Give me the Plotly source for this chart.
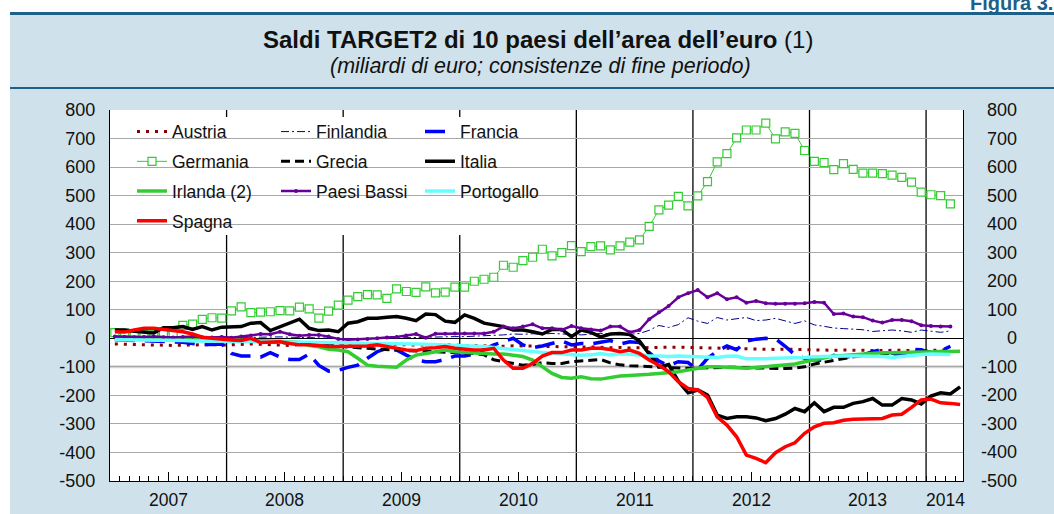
import plotly.graph_objects as go

# ---------------- data (monthly, Jan 2007 - Apr 2014) ----------------
years = ["2007", "2008", "2009", "2010", "2011", "2012", "2013", "2014"]
year_label_pos = [5.5, 17.5, 29.5, 41.5, 53.5, 65.5, 77.5, 85.5]
year_breaks = [11.5, 23.5, 35.5, 47.5, 59.5, 71.5, 83.5]
mid_year_ticks = [5.5, 17.5, 29.5, 41.5, 53.5, 65.5, 77.5]
month_labels = [f"{y}-{m:02d}" for y in range(2007, 2015) for m in range(1, 13)][:88]
x_idx = list(range(88))

y_ticks = [800, 700, 600, 500, 400, 300, 200, 100, 0, -100, -200, -300, -400, -500]
y_ticktext = ["800", "700", "600", "500", "400", "300", "200", "100", "0",
              "-100", "-200", "-300", "-400", "-500"]

austria = [-20, -21, -22, -23, -24, -26, -25, -24, -23, -22, -22, -24,
           -22, -22, -20, -21, -22, -24, -25, -22, -20, -22, -24, -26,
           -25, -24, -22, -20, -20, -22, -24, -24, -23, -22, -22, -24,
           -25, -24, -25, -27, -28, -26, -27, -28, -29, -28, -29, -30,
           -31, -30, -32, -33, -32, -34, -33, -32, -31, -32, -31, -32,
           -33, -34, -35, -36, -37, -38, -37, -38, -39, -38, -39, -40,
           -40, -41, -42, -41, -42, -43, -42, -43, -42, -43, -42, -43,
           -42, -41, -40, None]

finlandia = [2, 2, 3, 3, 2, 3, 4, 4, 3, 4, 5, 4,
             4, 3, 3, 4, 5, 5, 4, 3, 3, 2, 0, -2,
             -3, -2, -1, 0, 1, 2, 2, 3, 4, 5, 5, 6,
             6, 7, 8, 10, 12, 15, 14, 16, 15, 17, 15, 13,
             12, 14, 17, 16, 12, 14, 17, 28, 45, 38, 48, 72,
             60, 52, 73, 64, 68, 73, 62, 64, 70, 60, 52, 61,
             47, 42, 36, 34, 32, 30, 24, 26, 29, 26, 21, 29,
             25, 21, 26, None]

francia = [-5, -6, -6, -8, -8, -10, -12, -14, -18, -22, -22, -20,
           -53, -62, -62, -66, -50, -66, -74, -74, -55, -95, -115, -112,
           -102, -94, -70, -47, -35, -41, -59, -76, -82, -82, -74, -62,
           -62, -55, -39, -23, -12, 0, -23, -33, -27, -18, -9, -23,
           -18, -20, -15, -8, -20, -12, -15, -50, -80, -95, -82, -85,
           -110, -70, -45, -27, -40, -10, -3, 0, -2, -28, -58, -70,
           -75, -78, -60, -67, -62, -58, -47, -38, -52, -62, -38, -40,
           -52, -45, -28, None]

germania = [20, 18, 16, 15, 14, 17, 20, 45, 50, 66, 72, 71,
            96, 110, 90, 92, 93, 97, 96, 109, 103, 71, 95, 116,
            134, 146, 153, 152, 140, 173, 164, 161, 180, 159, 162, 179,
            179, 200, 207, 214, 256, 249, 272, 284, 312, 289, 300, 325,
            304, 321, 324, 310, 324, 337, 345, 392, 450, 467, 497, 464,
            499, 549, 618, 647, 702, 730, 730, 754, 699, 723, 718, 658,
            620, 616, 591, 612, 592, 579, 579, 577, 572, 564, 547, 512,
            503, 500, 471, None]

grecia = [-2, -3, -3, -4, -4, -5, -5, -6, -6, -7, -7, -8,
          -8, -10, -10, -12, -14, -15, -18, -20, -22, -23, -25, -27,
          -30, -33, -35, -38, -40, -42, -44, -45, -46, -47, -48, -50,
          -52, -53, -58, -75, -82, -88, -94, -92, -85, -88, -88, -82,
          -80, -78, -74, -86, -93, -96, -98, -100, -102, -104, -104, -105,
          -104, -103, -101, -100, -101, -103, -104, -105, -105, -106, -104, -100,
          -90, -84, -76, -70, -65, -62, -58, -55, -52, -50, -49, -48,
          -47, -46, -45, None]

italia = [29, 29, 25, 21, 19, 37, 37, 41, 31, 41, 29, 39,
          41, 41, 53, 55, 27, 41, 53, 67, 35, 27, 29, 23,
          53, 58, 70, 70, 74, 76, 70, 62, 85, 83, 60, 56,
          82, 70, 53, 47, 41, 29, 29, 23, 15, 31, 31, 6,
          29, 21, 5, 15, 17, 13, -10, -55, -100, -92, -150, -191,
          -181, -199, -269, -281, -275, -275, -279, -289, -281, -266, -246, -257,
          -226, -257, -242, -242, -228, -222, -211, -234, -234, -211, -216, -230,
          -202, -191, -195, -170]

irlanda = [5, 4, 3, 2, 2, 1, 0, 0, -1, -1, -2, -2,
           -3, -4, -5, -6, -8, -10, -12, -15, -25, -30, -38, -41,
           -47, -70, -94, -98, -101, -101, -76, -59, -53, -47, -41, -47,
           -50, -50, -53, -55, -55, -59, -64, -76, -101, -123, -137, -140,
           -135, -142, -143, -137, -132, -130, -129, -126, -123, -121, -117, -111,
           -105, -100, -100, -100, -103, -105, -102, -100, -97, -91, -90, -82,
           -76, -70, -62, -60, -58, -53, -52, -51, -51, -50, -49, -49,
           -48, -48, -46, -45]

paesi_bassi = [6, 5, 4, 5, 6, 4, 3, 5, 6, 4, 3, 5,
               2, 6, 10, 15, 14, 23, 14, 9, 12, 12, 6, -2,
               -5, -4, -2, 0, 3, 5, 10, 15, 2, 16, 16, 17,
               17, 17, 17, 23, 41, 35, 41, 49, 35, 35, 29, 43,
               35, 31, 27, 41, 41, 21, 29, 67, 91, 113, 144, 158,
               169, 144, 158, 137, 144, 125, 131, 123, 121, 121, 121, 123,
               127, 125, 85, 87, 76, 74, 62, 55, 64, 64, 60, 46,
               43, 41, 41, None]

portogallo = [-5, -5, -6, -6, -7, -7, -8, -8, -9, -9, -10, -10,
              -10, -11, -11, -12, -12, -13, -13, -14, -14, -15, -15, -16,
              -16, -17, -17, -18, -18, -19, -20, -20, -21, -22, -23, -24,
              -25, -27, -29, -32, -36, -40, -44, -47, -50, -52, -55, -57,
              -59, -58, -53, -58, -54, -56, -60, -62, -62, -64, -62, -64,
              -64, -67, -67, -63, -62, -72, -73, -72, -70, -70, -68, -67,
              -65, -63, -62, -62, -62, -62, -62, -64, -67, -63, -59, -57,
              -55, -56, -57, None]

spagna = [23, 22, 29, 35, 35, 31, 29, 23, 15, 4, 0, -4,
          -6, -8, 0, -15, -12, -12, -18, -23, -23, -27, -29, -29,
          -29, -27, -27, -23, -29, -35, -41, -43, -35, -33, -29, -35,
          -39, -41, -41, -35, -76, -105, -105, -88, -62, -50, -50, -41,
          -41, -35, -35, -39, -47, -41, -53, -76, -94, -117, -152, -176,
          -181, -207, -275, -304, -345, -409, -421, -436, -401, -380, -366, -333,
          -310, -298, -296, -287, -284, -282, -282, -281, -269, -266, -242, -216,
          -213, -226, -228, -232]

# ---------------- styles ----------------
FONT = "Liberation Sans, Arial, sans-serif"
series = [
    ("Austria", austria, "legend", dict(color="#8B0000", width=3, dash="3px,6px"), None),
    ("Finlandia", finlandia, "legend2", dict(color="#00008B", width=1, dash="8px,3px,2px,3px"), None),
    ("Francia", francia, "legend3", dict(color="#0000FF", width=3.5, dash="20px,10px"), None),
    ("Germania", germania, "legend", dict(color="#33CC33", width=1),
     dict(symbol="square", size=8, color="white", line=dict(color="#33CC33", width=1.2))),
    ("Grecia", grecia, "legend2", dict(color="black", width=3, dash="9px,5px"), None),
    ("Italia", italia, "legend3", dict(color="black", width=3.5), None),
    ("Irlanda (2)", irlanda, "legend", dict(color="#33CC33", width=3.5), None),
    ("Paesi Bassi", paesi_bassi, "legend2", dict(color="#660099", width=2.5),
     dict(symbol="circle", size=4, color="#660099")),
    ("Portogallo", portogallo, "legend3", dict(color="#66FFFF", width=3.5), None),
    ("Spagna", spagna, "legend", dict(color="#FF0000", width=3.5), None),
]

fig = go.Figure()
for name, vals, lg, line, marker in series:
    kw = dict(x=x_idx, y=vals, name=name, legend=lg, legendgroup=name,
              line=line, customdata=month_labels,
              hovertemplate="%{customdata}: %{y}<extra>" + name + "</extra>")
    if marker is not None:
        kw["mode"] = "lines+markers"
        kw["marker"] = marker
    else:
        kw["mode"] = "lines"
    fig.add_trace(go.Scatter(**kw))

BG = "#CFE1EB"
DARK = "#1D6089"

shapes = []
# white strips at top and left, header rules
shapes.append(dict(type="rect", xref="paper", yref="paper", x0=-0.3, x1=1.3,
                   y0=1.2642, y1=1.4, fillcolor="white", line=dict(width=0), layer="below"))
shapes.append(dict(type="rect", xref="paper", yref="paper", x0=-0.3, x1=-0.1172,
                   y0=-0.2, y1=1.4, fillcolor="white", line=dict(width=0), layer="below"))
shapes.append(dict(type="line", xref="paper", yref="paper", x0=-0.1172, x1=1.2,
                   y0=1.2601, y1=1.2601, line=dict(color=DARK, width=3), layer="below"))
shapes.append(dict(type="line", xref="paper", yref="paper", x0=-0.1172, x1=1.2,
                   y0=1.0593, y1=1.0593, line=dict(color=DARK, width=2), layer="below"))
# light band at -100
shapes.append(dict(type="line", xref="paper", yref="y", x0=0, x1=1, y0=-100, y1=-100,
                   line=dict(color="#D4D4D4", width=3), layer="between"))
# year separators
for xb in year_breaks:
    shapes.append(dict(type="line", xref="x", yref="paper", x0=xb, x1=xb, y0=0, y1=1,
                       line=dict(color="black", width=1.3), layer="between"))
# white legend box
shapes.append(dict(type="rect", xref="paper", yref="paper", x0=0.0211, x1=0.5217,
                   y0=0.663, y1=0.9811, fillcolor="white", line=dict(width=0), layer="between"))

annotations = []
annotations.append(dict(xref="paper", yref="paper", x=0.5023, y=1.1887, xanchor="center",
                        yanchor="middle", showarrow=False,
                        text="<b>Saldi TARGET2 di 10 paesi dell’area dell’euro</b> (1)",
                        font=dict(family=FONT, size=24, color="#111111")))
annotations.append(dict(xref="paper", yref="paper", x=0.5047, y=1.1186, xanchor="center",
                        yanchor="middle", showarrow=False,
                        text="<i>(miliardi di euro; consistenze di fine periodo)</i>",
                        font=dict(family=FONT, size=21.5, color="#111111")))
annotations.append(dict(xref="paper", yref="paper", x=(968 - 110) / 853, y=1.2871,
                        xanchor="left", yanchor="middle", showarrow=False,
                        text="<b>Figura 3.</b>",
                        font=dict(family=FONT, size=20, color=DARK)))
for yr, xp in zip(years, year_label_pos):
    annotations.append(dict(xref="x", yref="paper", x=xp, y=-0.0512, xanchor="center",
                            yanchor="middle", showarrow=False, text=yr,
                            font=dict(family=FONT, size=17.5, color="#111111")))
for tv, tt in zip(y_ticks, y_ticktext):
    annotations.append(dict(xref="paper", yref="y", x=(1019 - 110) / 853, y=tv,
                            xanchor="right", yanchor="middle", showarrow=False, text=tt,
                            font=dict(family=FONT, size=18, color="#111111")))

leg_common = dict(yanchor="top", xanchor="left", bgcolor="rgba(0,0,0,0)", borderwidth=0,
                  font=dict(family=FONT, size=17.5, color="#111111"),
                  tracegroupgap=4, traceorder="grouped", y=0.990)

fig.update_layout(
    width=1054, height=514,
    margin=dict(l=110, r=91, t=110, b=33),
    paper_bgcolor=BG, plot_bgcolor="white",
    font=dict(family=FONT, size=17.5, color="#111111"),
    showlegend=True,
    legend=dict(x=(132 - 110) / 853, **leg_common),
    legend2=dict(x=(276 - 110) / 853, **leg_common),
    legend3=dict(x=(420 - 110) / 853, **leg_common),
    shapes=shapes, annotations=annotations,
    xaxis=dict(range=[-0.5, 87.3], tickmode="array", tickvals=mid_year_ticks,
               showticklabels=False, ticks="inside", ticklen=9, tickcolor="black",
               tickwidth=1.2, showgrid=False, zeroline=False, showline=True,
               linecolor="black", linewidth=1.3,
               minor=dict(tickmode="linear", tick0=-0.5, dtick=1, ticks="inside",
                          ticklen=5, tickcolor="black", tickwidth=1, showgrid=False)),
    yaxis=dict(range=[-500, 800], tickmode="array", tickvals=y_ticks, ticktext=y_ticktext,
               gridcolor="#A8A8A8", gridwidth=1.2, zeroline=True, zerolinecolor="black",
               zerolinewidth=1.3, showline=True, linecolor="black", linewidth=1.3,
               mirror=True, ticks="", ticklabelstandoff=10,
               tickfont=dict(family=FONT, size=18, color="#111111")),
)

fig.write_html("out.html", config={"displayModeBar": False},
               post_script="document.body.style.margin='0px';document.body.style.overflow='hidden';")
